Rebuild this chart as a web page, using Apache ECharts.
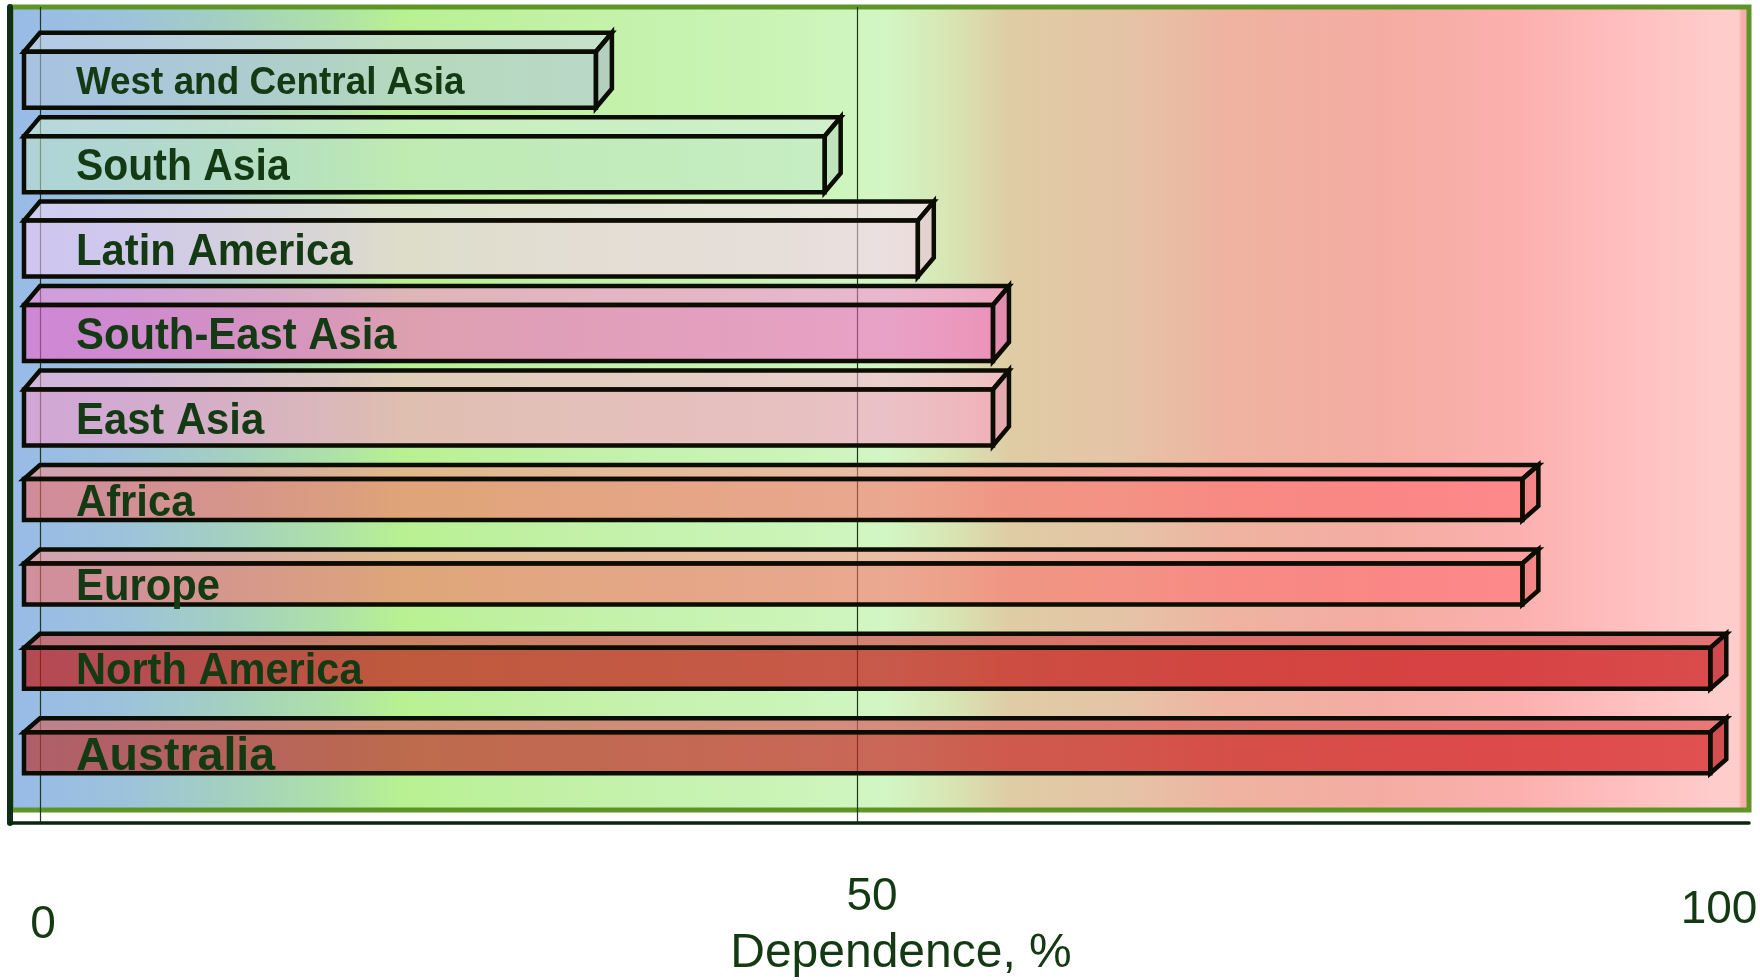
<!DOCTYPE html>
<html>
<head>
<meta charset="utf-8">
<title>Dependence by region</title>
<script src="https://cdn.jsdelivr.net/npm/echarts@6/dist/echarts.min.js"></script>
<style>
    html, body { margin: 0; padding: 0; background: #fff; }
    #chart { width: 1760px; height: 980px; }
</style>
</head>
<body>
<div id="chart"></div>
<script>
'use strict';

// data
const regions = ['West and Central Asia', 'South Asia', 'Latin America', 'South-East Asia', 'East Asia',
    'Africa', 'Europe', 'North America', 'Australia'];
const dependence = [35, 49, 54.7, 59.3, 59.3, 91.7, 91.7, 103.2, 103.2];
const tickValues = [0, 50, 100];
const axisTitle = 'Dependence, %';

// styles (per bar: left / right base colour, opacity, front face height, label size and stretch)
const barLeft = [[180, 200, 222], [193, 231, 202], [250, 205, 250], [250, 92, 200], [255, 150, 200],
    [255, 100, 92], [255, 104, 96], [191, 26, 23], [185, 56, 53]];
const barRight = [[178, 196, 222], [193, 231, 202], [255, 205, 245], [250, 92, 200], [255, 150, 200],
    [255, 105, 110], [255, 105, 110], [201, 21, 23], [211, 29, 29]];
const barAlpha = [0.55, 0.55, 0.55, 0.55, 0.55, 0.55, 0.55, 0.7, 0.7];
const frontHeight = [56, 56, 56, 56, 56, 41, 41, 41, 41];
const labelSize = [39, 44, 44, 44, 44, 44, 44, 44, 47];
const labelStretch = [0.945, 0.93, 0.95, 0.95, 0.95, 0.95, 0.95, 0.945, 0.99];

const FONT = "'Liberation Sans', Arial, Helvetica, sans-serif";
const TEXT = '#143a14';
const EDGE = '#0b0c02';

const rgba = (c, a, f) => {
    // f > 0 lightens towards white, f < 0 darkens
    const k = c.map(v => f >= 0 ? v + (255 - v) * f : v * (1 + f));
    return `rgba(${k.map(Math.round).join(',')},${a})`;
};
const hGrad = (c1, c2) => ({
    type: 'linear', x: 0, y: 0, x2: 1, y2: 0,
    colorStops: [{ offset: 0, color: c1 }, { offset: 1, color: c2 }]
});

const bgGradient = {
    type: 'linear', x: 0, y: 0, x2: 1, y2: 0,
    colorStops: [
        { offset: 0, color: '#98bbe8' },
        { offset: 0.063, color: '#9cc2dc' },
        { offset: 0.123, color: '#a3cfc2' },
        { offset: 0.188, color: '#aee2a6' },
        { offset: 0.226, color: '#b8f192' },
        { offset: 0.316, color: '#c1f1a6' },
        { offset: 0.446, color: '#cbf4b8' },
        { offset: 0.504, color: '#d2f6c4' },
        { offset: 0.543, color: '#d8e4b2' },
        { offset: 0.575, color: '#dfcca4' },
        { offset: 0.639, color: '#e5c4a6' },
        { offset: 0.704, color: '#efb2a0' },
        { offset: 0.788, color: '#f4aca2' },
        { offset: 0.865, color: '#fbb0ae' },
        { offset: 0.93, color: '#ffbfbf' },
        { offset: 0.982, color: '#ffcccc' },
        { offset: 0.9925, color: '#ffcccc' },
        { offset: 0.9945, color: '#f6aeaa' },
        { offset: 1, color: '#f6aeaa' }
    ]
};

// 3d box: back face starts at the value 0, front face is shifted left and down
function renderBox(params, api) {
    const v = api.value(0);
    const i = api.value(1);
    const p0 = api.coord([0, i]);
    const p1 = api.coord([v, i]);
    const fh = frontHeight[i];
    const dy = Math.round(fh * 0.34);
    const dx = 16;
    const top = p0[1] - (fh + dy) / 2;
    const xb0 = p0[0], xb1 = p1[0];
    const xf0 = xb0 - dx, xf1 = xb1 - dx;
    const ft = top + dy, fb = top + dy + fh;
    const a = barAlpha[i];
    const stroke = { stroke: EDGE, lineWidth: 4.5, lineJoin: 'miter' };
    return {
        type: 'group',
        children: [
            {
                type: 'polygon',
                shape: { points: [[xf0, ft], [xb0, top], [xb1, top], [xf1, ft]] },
                style: Object.assign({ fill: hGrad(rgba(barLeft[i], a, 0.25), rgba(barRight[i], a, 0.25)) }, stroke)
            },
            {
                type: 'polygon',
                shape: { points: [[xf1, ft], [xb1, top], [xb1, fb - dy], [xf1, fb]] },
                style: Object.assign({ fill: rgba(barRight[i], a, -0.08) }, stroke)
            },
            {
                type: 'rect',
                shape: { x: xf0, y: ft, width: xf1 - xf0, height: fh },
                style: Object.assign({ fill: hGrad(rgba(barLeft[i], a, 0), rgba(barRight[i], a, 0)) }, stroke)
            },
            {
                type: 'text',
                x: xb0 + 36,
                y: ft + fh / 2 + 4,
                scaleX: labelStretch[i],
                style: {
                    text: regions[i],
                    x: 0,
                    y: 0,
                    fill: TEXT,
                    fontSize: labelSize[i],
                    fontWeight: 'bold',
                    fontFamily: FONT,
                    verticalAlign: 'middle'
                }
            }
        ]
    };
}

const tickRich = {};
const tickPad = { 0: [59, 0, 0, 6], 50: [31, 0, 0, 30], 100: [44, 0, 0, 90] };
tickValues.forEach(t => {
    tickRich['t' + t] = { fontSize: 46, color: TEXT, fontFamily: FONT, padding: tickPad[t] };
});

const option = {
    animation: false,
    grid: [
        // frame with the coloured background
        { left: 11, top: 7, width: 1738, height: 803, show: true, z: -1, outerBoundsMode: 'none',
          backgroundColor: bgGradient, borderColor: '#5e9526', borderWidth: 5 },
        // scale: grid lines and tick labels
        { left: 40, top: 7, right: 86, bottom: 157, outerBoundsMode: 'none' },
        // bars
        { left: 40, top: 28, right: 86, height: 760, outerBoundsMode: 'none' }
    ],
    xAxis: [
        {
            gridIndex: 0, type: 'value', min: 0, max: 1, offset: 13,
            axisLine: { show: true, onZero: false, lineStyle: { color: '#0c2410', width: 3.5 } },
            axisTick: { show: false }, axisLabel: { show: false }, splitLine: { show: false }
        },
        {
            gridIndex: 1, type: 'value', min: 0, max: 100, interval: 50,
            axisLine: { show: false }, axisTick: { show: false },
            splitLine: { show: true, showMaxLine: false, lineStyle: { color: '#1c3a1c', width: 1.2 } },
            axisLabel: {
                margin: 20,
                formatter: v => tickValues.indexOf(v) >= 0 ? `{t${v}|${v}}` : '',
                rich: tickRich
            },
            name: axisTitle,
            nameLocation: 'middle',
            nameGap: 107,
            nameMoveOverlap: false,
            nameTextStyle: { fontSize: 48, color: TEXT, fontFamily: FONT, padding: [0, 0, 0, 88] }
        },
        { gridIndex: 2, type: 'value', min: 0, max: 100, show: false }
    ],
    yAxis: [
        { gridIndex: 0, type: 'value', show: false },
        {
            gridIndex: 1, type: 'value', offset: 30,
            axisLine: { show: true, onZero: false, lineStyle: { color: '#0f3014', width: 6 } },
            axisTick: { show: false }, axisLabel: { show: false }, splitLine: { show: false }
        },
        { gridIndex: 2, type: 'category', data: regions, inverse: true, show: false }
    ],
    series: [{
        type: 'custom',
        xAxisIndex: 2,
        yAxisIndex: 2,
        z: 5,
        renderItem: renderBox,
        encode: { x: 0, y: 1 },
        data: dependence.map((v, i) => [v, i])
    }]
};

const chart = echarts.init(document.getElementById('chart'));
chart.setOption(option);
</script>
</body>
</html>
